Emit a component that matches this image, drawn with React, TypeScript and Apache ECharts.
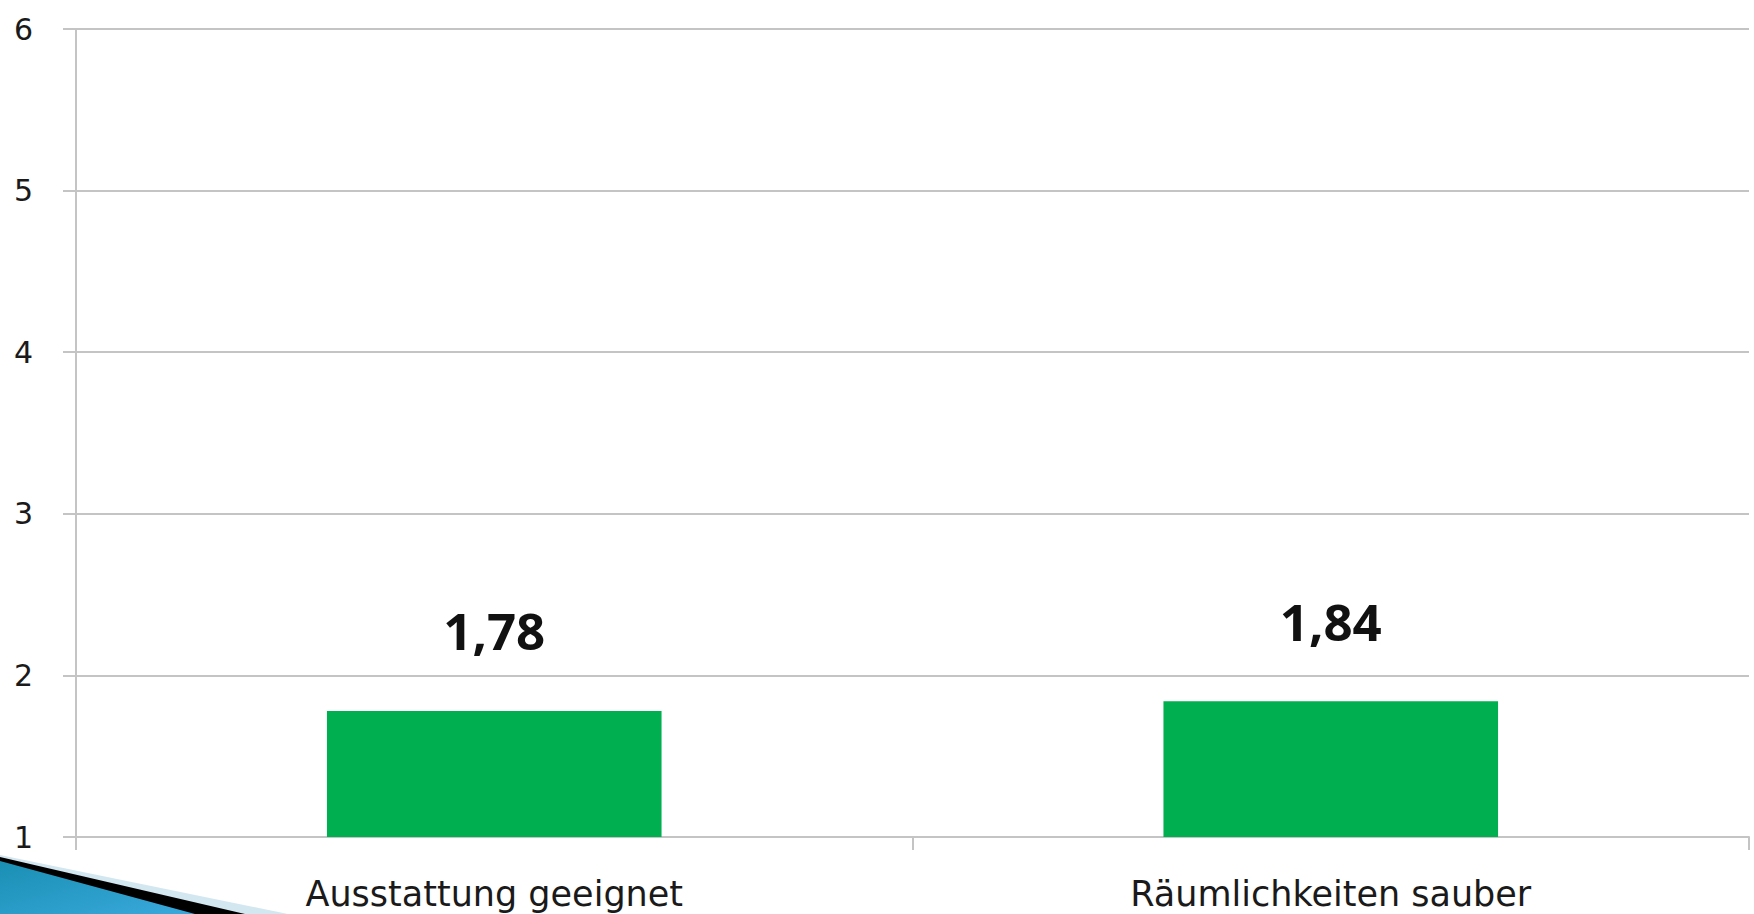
import React, { useEffect, useRef } from "react";
import * as echarts from "echarts";

const categories = ["Ausstattung geeignet", "Räumlichkeiten sauber"];
const values = [1.78, 1.84];
const yTicks = { min: 1, max: 6, interval: 1 };

export default function App() {
  const ref = useRef<HTMLDivElement>(null);
  useEffect(() => {
    if (!ref.current) return;
    const chart = echarts.init(ref.current, undefined, { renderer: "svg" });
    const gridColor = "#c4c4c4";
    chart.setOption({
      animation: false,
      backgroundColor: "#ffffff",
      grid: { left: 76, right: 5, top: 29, bottom: 77, containLabel: false },
      xAxis: {
        type: "category",
        data: categories,
        axisLine: { show: true, lineStyle: { color: gridColor, width: 2 } },
        axisTick: { show: true, length: 13, lineStyle: { color: gridColor, width: 2 } },
        axisLabel: {
          margin: 39,
          fontFamily: "DejaVu Sans",
          fontSize: 35,
          color: "#1a1a1a",
        },
        splitLine: { show: false },
      },
      yAxis: {
        type: "value",
        min: yTicks.min,
        max: yTicks.max,
        interval: yTicks.interval,
        axisLine: { show: true, lineStyle: { color: gridColor, width: 2 } },
        axisTick: { show: true, length: 13, lineStyle: { color: gridColor, width: 2 } },
        axisLabel: {
          margin: 43,
          fontFamily: "DejaVu Sans",
          fontSize: 30,
          color: "#1a1a1a",
          padding: [0, 0, 18, 0],
        },
        splitLine: { show: true, lineStyle: { color: gridColor, width: 2 } },
      },
      series: [
        {
          type: "bar",
          data: values,
          barWidth: "40%",
          itemStyle: { color: "#00b050" },
          label: {
            show: true,
            position: "top",
            distance: 55,
            fontFamily: "Open Sans",
            fontWeight: "bold",
            fontSize: 51,
            color: "#111111",
            formatter: (p: any) => String(p.value.toFixed(2)).replace(".", ","),
          },
        },
      ],
      graphic: [
        {
          type: "polygon",
          z: 100,
          shape: { points: [[0, 855], [288, 914], [0, 914]] },
          style: { fill: "#d3e7f0" },
        },
        {
          type: "polygon",
          z: 101,
          shape: { points: [[0, 857], [245, 914], [0, 914]] },
          style: { fill: "#000000" },
        },
        {
          type: "polygon",
          z: 102,
          shape: { points: [[0, 861], [195, 914], [0, 914]] },
          style: {
            fill: new echarts.graphic.LinearGradient(0, 0, 1, 1, [
              { offset: 0, color: "#1a8fb3" },
              { offset: 1, color: "#39a9dc" },
            ]),
          },
        },
      ],
    });
    return () => chart.dispose();
  }, []);
  return (
    <div
      ref={ref}
      style={{ position: "fixed", left: 0, top: 0, width: 1754, height: 914 }}
    />
  );
}
